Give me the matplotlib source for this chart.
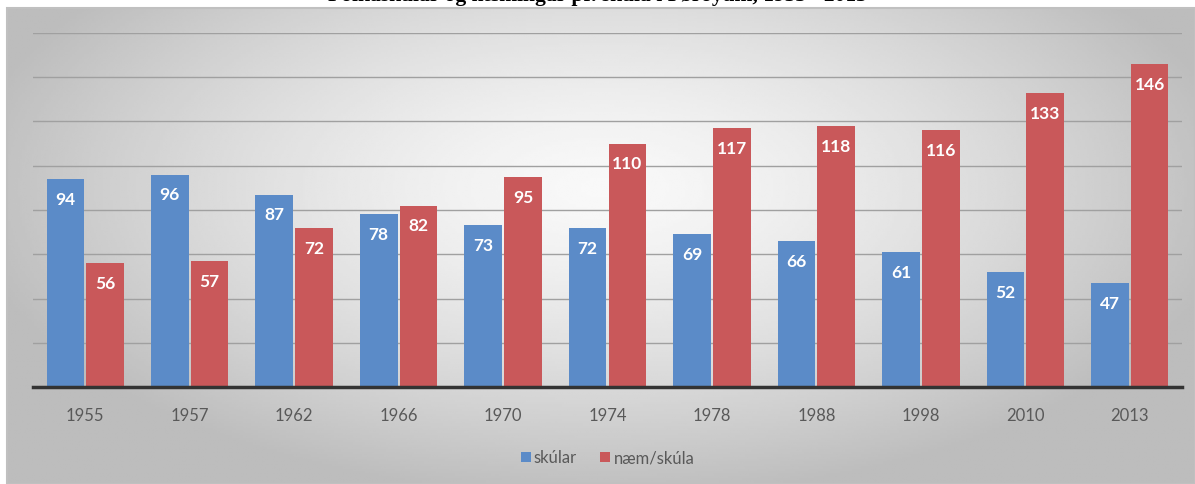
import numpy as np
import matplotlib
matplotlib.use("Agg")
from matplotlib import pyplot as plt
from matplotlib.patches import Rectangle

years = ['1955', '1957', '1962', '1966', '1970', '1974', '1978', '1988', '1998', '2010', '2013']
skular = [94, 96, 87, 78, 73, 72, 69, 66, 61, 52, 47]
naem_skula = [56, 57, 72, 82, 95, 110, 117, 118, 116, 133, 146]

title = 'Fólkaskúlar og næmingar pr. skúla í Føroyum, 1955 - 2013'
blue = '#5b8bc8'
red = '#c9585a'

plt.rcParams['font.family'] = ['Lato', 'DejaVu Sans']

W, H = 1195, 484
fig = plt.figure(figsize=(W / 100, H / 100), dpi=100)
fig.patch.set_facecolor('white')

# grey gradient panel behind the chart
bg = fig.add_axes([7 / W, 0, 1 - 7 / W, 1 - 8 / H])
yy, xx = np.mgrid[0:200, 0:500]
d = np.sqrt(((xx - 250) / 290.0) ** 2 + ((yy - 75) / 140.0) ** 2)
shade = np.clip(0.975 - 0.26 * d ** 1.4, 0.74, 0.975)
bg.imshow(shade, cmap='gray', vmin=0, vmax=1, aspect='auto', extent=[0, 1, 0, 1],
          interpolation='bilinear')
bg.set_xlim(0, 1)
bg.set_ylim(0, 1)
bg.axis('off')
bg.add_patch(Rectangle((0, 0), 1, 1, fill=False, edgecolor='#c0c0c0', lw=1.5,
                       transform=bg.transAxes, clip_on=False))

ax = fig.add_axes([33 / W, 97 / H, (1182 - 33) / W, (387 - 33) / H])
ax.patch.set_alpha(0)

x = np.arange(len(years))
w = 0.36
b1 = ax.bar(x - w / 2 - 0.01, skular, width=w, color=blue, zorder=3)
b2 = ax.bar(x + w / 2 + 0.01, naem_skula, width=w, color=red, zorder=3)

for bars, vals in [(b1, skular), (b2, naem_skula)]:
    for b, v in zip(bars, vals):
        ax.annotate(str(v), (b.get_x() + b.get_width() / 2, v), xytext=(0, -15),
                    textcoords='offset points', ha='center', va='center',
                    color='white', fontsize=12.5, fontweight='bold', zorder=4)

ax.set_xlim(-0.5, len(years) - 0.5)
ax.set_ylim(0, 160)
ax.set_yticks(range(20, 161, 20))
ax.yaxis.grid(True, color='#a0a0a0', lw=1)
ax.tick_params(axis='y', left=False, labelleft=False)
ax.set_xticks(x)
ax.set_xticklabels(years, fontsize=12, color='#595959')
ax.tick_params(axis='x', length=0, pad=15)
for s in ['top', 'right', 'left']:
    ax.spines[s].set_visible(False)
ax.spines['bottom'].set_color('#333333')
ax.spines['bottom'].set_linewidth(2.5)
ax.spines['bottom'].set_zorder(5)

leg = ax.legend([b1, b2], ['skúlar', 'næm/skúla'], loc='center',
                bbox_to_anchor=(0.5, -(458 - 387) / (387 - 33)),
                ncol=2, frameon=False, fontsize=12, handlelength=0.6, handleheight=0.6,
                handletextpad=0.2, columnspacing=1.4, labelcolor='#595959')

# title is cut off at the top edge, as in the original
fig.text(0.5, 1 - 1.5 / H, title, ha='center', va='baseline', fontsize=15.5,
         fontweight='bold', family=['Liberation Serif', 'DejaVu Serif'])

fig.savefig('out.png', dpi=100)
